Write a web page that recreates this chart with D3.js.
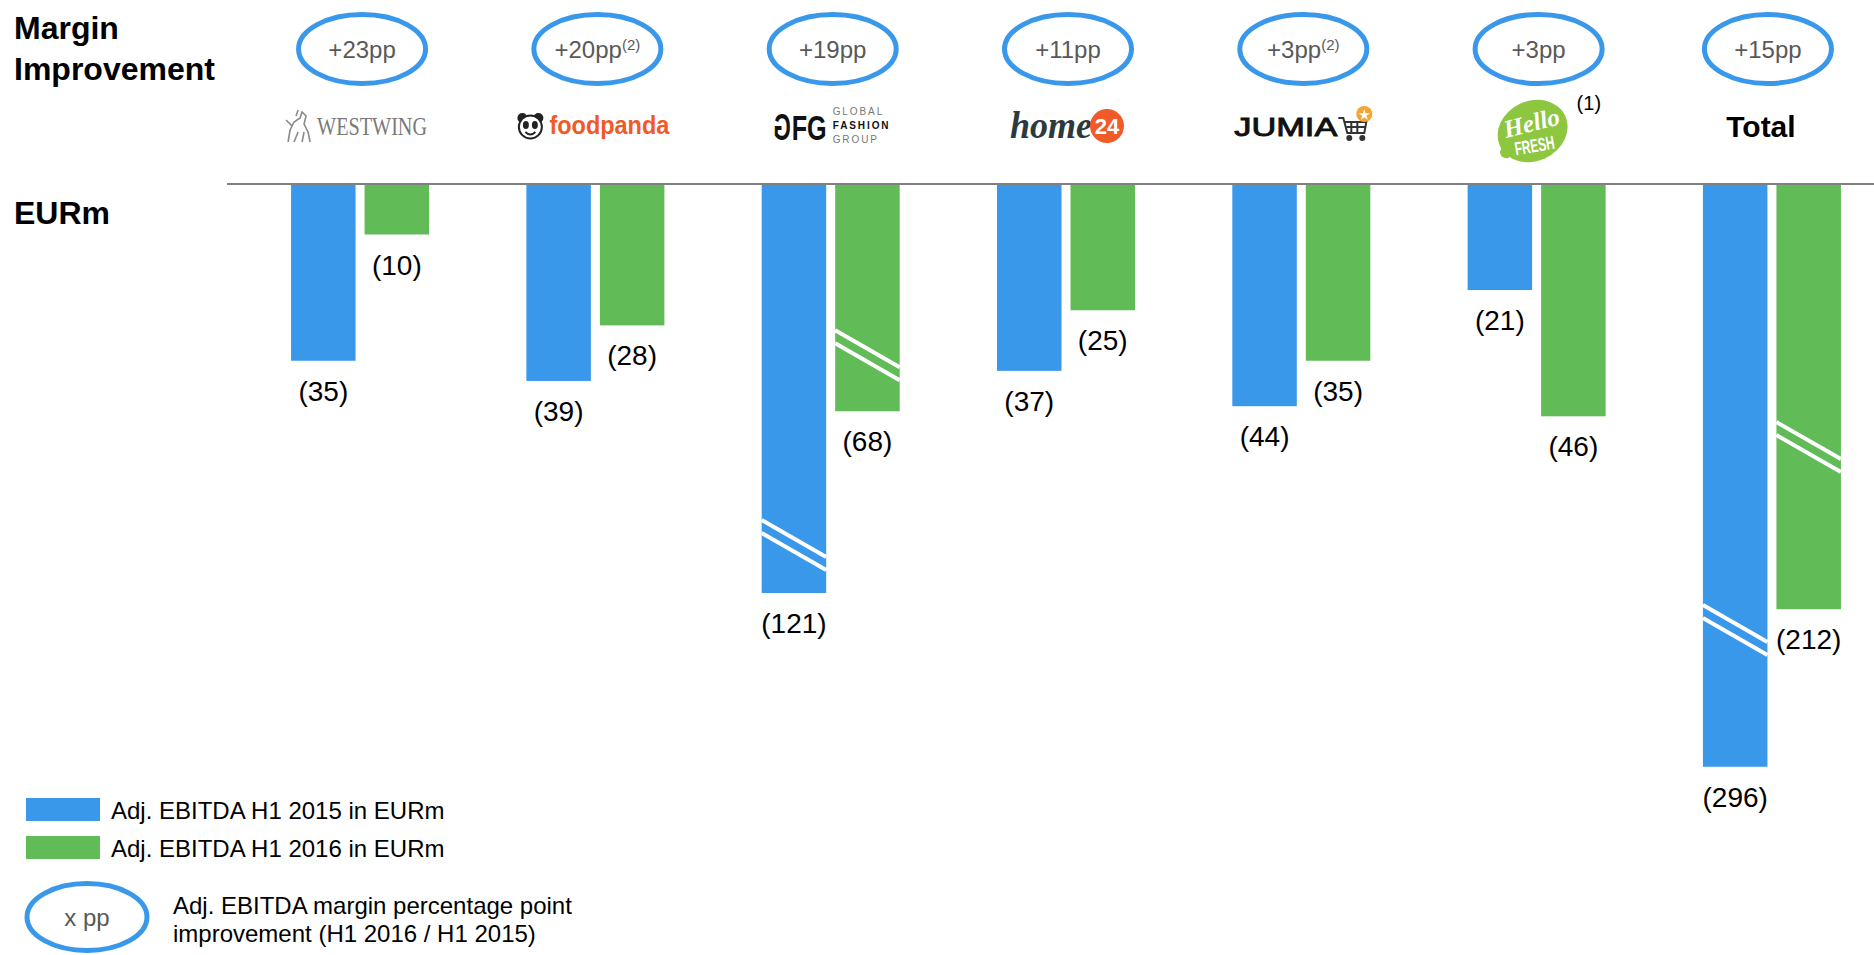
<!DOCTYPE html>
<html>
<head>
<meta charset="utf-8">
<script src="https://cdn.jsdelivr.net/npm/d3@7"></script>
<style>
body { margin: 0; background: #fff; }
text { font-family: "Liberation Sans", Arial, sans-serif; }
</style>
</head>
<body>
<svg id="chart" width="1874" height="955"></svg>
<script>
var companies = ['Westwing', 'foodpanda', 'GFG', 'home24', 'Jumia', 'HelloFresh', 'Total'];
var ebitda2015 = [35, 39, 121, 37, 44, 21, 296];
var ebitda2016 = [10, 28, 68, 25, 35, 46, 212];
// bars with an axis break are drawn shorter: length shown on the scale, and where the break sits
var shown2015 = [35, 39, 81, 37, 44, 21, 115.4];
var shown2016 = [10, 28, 45, 25, 35, 46, 84.2];
var break2015 = [null, null, 71.5, null, null, null, 88.3];
var break2016 = [null, null, 33.9, null, null, null, 52.1];
var marginPP = ['+23pp', '+20pp', '+19pp', '+11pp', '+3pp', '+3pp', '+15pp'];
var marginNote = ['', '(2)', '', '', '(2)', '', ''];
var seriesKeys = ['h1_2015', 'h1_2016'];
var seriesLabels = ['Adj. EBITDA H1 2015 in EURm', 'Adj. EBITDA H1 2016 in EURm'];

var svg = d3.select('#chart');
var blue = '#3a98ea';
var green = '#61bc58';

var x0 = d3.scaleBand().domain(companies).range([244, 1888]).paddingInner(0.4135).paddingOuter(0.2);
var x1 = d3.scaleBand().domain(seriesKeys).range([0, x0.bandwidth()]).paddingInner(0.1224);
var y = d3.scaleLinear().domain([0, 100]).range([184, 689]);
var color = d3.scaleOrdinal().domain(seriesKeys).range([blue, green]);

function cx(c) { return x0(c) + x0.bandwidth() / 2; }

var rows = [];
companies.forEach(function(c, i) {
    rows.push({company: c, key: 'h1_2015', value: ebitda2015[i], shown: shown2015[i], brk: break2015[i]});
    rows.push({company: c, key: 'h1_2016', value: ebitda2016[i], shown: shown2016[i], brk: break2016[i]});
});

// left titles
svg.append('text').attr('x', 14).attr('y', 39).style('font-size', '32px').style('font-weight', 'bold').text('Margin');
svg.append('text').attr('x', 14).attr('y', 80).style('font-size', '32px').style('font-weight', 'bold').text('Improvement');
svg.append('text').attr('x', 14).attr('y', 224).style('font-size', '32px').style('font-weight', 'bold').text('EURm');

// bars
svg.append('g').selectAll('.bar')
    .data(rows)
    .enter()
    .append('rect')
    .attr('class', 'bar')
    .attr('x', function(d) { return x0(d.company) + x1(d.key); })
    .attr('y', y(0))
    .attr('width', x1.bandwidth())
    .attr('height', function(d) { return y(d.shown) - y(0); })
    .style('fill', function(d) { return color(d.key); });

// axis break marks
var broken = rows.filter(function(d) { return d.brk != null; });
[-6.5, 6.5].forEach(function(off) {
    svg.append('g').selectAll('.brk')
        .data(broken)
        .enter()
        .append('line')
        .attr('x1', function(d) { return x0(d.company) + x1(d.key); })
        .attr('x2', function(d) { return x0(d.company) + x1(d.key) + x1.bandwidth(); })
        .attr('y1', function(d) { return y(d.brk) + off - 18.5; })
        .attr('y2', function(d) { return y(d.brk) + off + 18.5; })
        .style('stroke', '#fff')
        .style('stroke-width', 4);
});

// value labels
svg.append('g').selectAll('.lbl')
    .data(rows)
    .enter()
    .append('text')
    .attr('x', function(d) { return x0(d.company) + x1(d.key) + x1.bandwidth() / 2; })
    .attr('y', function(d) { return y(d.shown) + 40; })
    .attr('text-anchor', 'middle')
    .style('font-size', '28px')
    .style('fill', '#000')
    .text(function(d) { return '(' + d.value + ')'; });

// baseline
svg.append('line')
    .attr('x1', 227).attr('x2', 1874)
    .attr('y1', y(0)).attr('y2', y(0))
    .style('stroke', '#808080')
    .style('stroke-width', 2);

// margin ellipses
var ppGroups = svg.append('g').selectAll('.pp')
    .data(companies)
    .enter()
    .append('g');

ppGroups.append('ellipse')
    .attr('cx', function(d) { return cx(d) + (d == 'Total' ? -4 : 2); })
    .attr('cy', 49)
    .attr('rx', 63.5)
    .attr('ry', 34.5)
    .style('fill', 'none')
    .style('stroke', blue)
    .style('stroke-width', 5);

var ppText = ppGroups.append('text')
    .attr('x', function(d) { return cx(d) + (d == 'Total' ? -4 : 2); })
    .attr('y', 58)
    .attr('text-anchor', 'middle')
    .style('font-size', '24px')
    .style('fill', '#595959');
ppText.append('tspan').text(function(d, i) { return marginPP[i]; });
ppText.append('tspan')
    .attr('dy', -8)
    .style('font-size', '15px')
    .text(function(d, i) { return marginNote[i]; });

// logos (approximated with shapes and text)
var logos = svg.append('g');
var logoDraw = {
    Westwing: function(g, c) {
        var h = g.append('g').attr('transform', 'translate(' + [c - 62, 128] + ')')
            .style('fill', 'none').style('stroke', '#8a8a8a').style('stroke-width', 1.6);
        h.append('path').attr('d', 'M-10,14 L-8,2 L-4,-6 L2,-10 L4,-16 L8,-12 L6,-4 L10,4 L12,14');
        h.append('path').attr('d', 'M-6,-2 L-12,-8 M0,4 L-4,14 M6,4 L4,14 M-2,-12 L0,-18');
        g.append('text').attr('x', c - 43).attr('y', 135)
            .attr('textLength', 110).attr('lengthAdjust', 'spacingAndGlyphs')
            .style('font-family', '"Liberation Serif", serif').style('font-size', '25px')
            .style('fill', '#7a7a7a').text('WESTWING');
    },
    foodpanda: function(g, c) {
        var p = g.append('g').attr('transform', 'translate(' + [c - 65, 127] + ')');
        p.append('circle').attr('cx', -8).attr('cy', -9).attr('r', 5).style('fill', '#222');
        p.append('circle').attr('cx', 8).attr('cy', -9).attr('r', 5).style('fill', '#222');
        p.append('circle').attr('r', 11.5).style('fill', '#fff').style('stroke', '#222').style('stroke-width', 2);
        p.append('ellipse').attr('cx', -4.5).attr('cy', -2).attr('rx', 3).attr('ry', 4).style('fill', '#222');
        p.append('ellipse').attr('cx', 4.5).attr('cy', -2).attr('rx', 3).attr('ry', 4).style('fill', '#222');
        p.append('path').attr('d', 'M-5,5 Q0,10 5,5').style('fill', 'none').style('stroke', '#222').style('stroke-width', 1.8);
        g.append('text').attr('x', c - 46).attr('y', 134)
            .attr('textLength', 120).attr('lengthAdjust', 'spacingAndGlyphs')
            .style('font-size', '25px').style('font-weight', 'bold')
            .style('fill', '#f05a28').text('foodpanda');
    },
    GFG: function(g, c) {
        // narrow letters by scaling, first G mirrored
        g.append('text').attr('transform', 'translate(' + (c - 40) + ',140) scale(-0.62,1)')
            .style('font-size', '36px').style('font-weight', 'bold').style('fill', '#111').text('G');
        g.append('text').attr('transform', 'translate(' + (c - 39) + ',140) scale(0.7,1)')
            .style('font-size', '36px').style('font-weight', 'bold').style('fill', '#111').text('FG');
        var small = [['GLOBAL', '#777', 'normal', 115], ['FASHION', '#111', 'bold', 129], ['GROUP', '#777', 'normal', 143]];
        small.forEach(function(s) {
            g.append('text').attr('x', c + 2).attr('y', s[3])
                .style('font-size', '10px').style('letter-spacing', '1.9px')
                .style('font-weight', s[2]).style('fill', s[1]).text(s[0]);
        });
    },
    home24: function(g, c) {
        g.append('text').attr('x', c - 56).attr('y', 138)
            .attr('textLength', 82).attr('lengthAdjust', 'spacingAndGlyphs')
            .style('font-family', '"Liberation Serif", serif').style('font-style', 'italic').style('font-weight', 'bold')
            .style('font-size', '38px').style('fill', '#2c3a40').text('home');
        g.append('circle').attr('cx', c + 41).attr('cy', 126).attr('r', 17).style('fill', '#f15a29');
        g.append('text').attr('x', c + 41).attr('y', 134).attr('text-anchor', 'middle')
            .style('font-size', '22px').style('font-weight', 'bold').style('fill', '#fff').text('24');
    },
    Jumia: function(g, c) {
        g.append('text').attr('x', c - 67).attr('y', 136)
            .attr('textLength', 103).attr('lengthAdjust', 'spacingAndGlyphs')
            .style('font-size', '26px').style('fill', '#111')
            .style('stroke', '#111').style('stroke-width', 0.9).text('JUMIA');
        var k = g.append('g').attr('transform', 'translate(' + [c + 37, 118] + ')')
            .style('fill', 'none').style('stroke', '#333').style('stroke-width', 2);
        k.append('path').attr('d', 'M0,0 L5,0 L9,15 L26,15 L28,4 L6,4');
        k.append('path').attr('d', 'M13,4 L13,15 M19,4 L19,15 M8,9 L27,9');
        k.append('circle').attr('cx', 11).attr('cy', 20).attr('r', 2).style('fill', '#333');
        k.append('circle').attr('cx', 24).attr('cy', 20).attr('r', 2).style('fill', '#333');
        g.append('circle').attr('cx', c + 63).attr('cy', 114).attr('r', 8).style('fill', '#f6a531');
        g.append('path').attr('d', d3.symbol().type(d3.symbolStar).size(40)())
            .attr('transform', 'translate(' + [c + 63, 115] + ')').style('fill', '#fff');
    },
    HelloFresh: function(g, c) {
        var b = g.append('g').attr('transform', 'translate(' + [c - 4, 131] + ') rotate(-25)');
        b.append('ellipse').attr('rx', 36).attr('ry', 30).style('fill', '#8dc63f');
        b.append('circle').attr('cx', -33).attr('cy', 8).attr('r', 6).style('fill', '#8dc63f');
        g.append('text').attr('x', c - 3).attr('y', 131).attr('text-anchor', 'middle')
            .attr('transform', 'rotate(-14,' + (c - 3) + ',131)')
            .style('font-family', '"Liberation Serif", serif').style('font-style', 'italic').style('font-weight', 'bold')
            .style('font-size', '25px').style('fill', '#fff').text('Hello');
        g.append('text').attr('x', c - 1).attr('y', 152).attr('text-anchor', 'middle')
            .attr('transform', 'rotate(-10,' + (c - 1) + ',152)')
            .attr('textLength', 40).attr('lengthAdjust', 'spacingAndGlyphs')
            .style('font-size', '19px').style('font-weight', 'bold').style('fill', '#fff').text('FRESH');
        g.append('text').attr('x', c + 40).attr('y', 110)
            .style('font-size', '20px').style('fill', '#000').text('(1)');
    },
    Total: function(g, c) {
        g.append('text').attr('x', c - 11).attr('y', 137).attr('text-anchor', 'middle')
            .style('font-size', '30px').style('font-weight', 'bold').style('fill', '#000').text('Total');
    }
};
companies.forEach(function(c) {
    logoDraw[c](logos.append('g'), cx(c));
});

// legend
var legend = svg.append('g').selectAll('.legend')
    .data(seriesKeys)
    .enter()
    .append('g')
    .attr('transform', function(d, i) { return 'translate(' + [26, 798 + i * 38] + ')'; });
legend.append('rect')
    .attr('width', 74)
    .attr('height', 23)
    .style('fill', function(d) { return color(d); });
legend.append('text')
    .attr('x', 85)
    .attr('y', 21)
    .style('font-size', '24px')
    .style('fill', '#000')
    .text(function(d, i) { return seriesLabels[i]; });

svg.append('ellipse')
    .attr('cx', 87).attr('cy', 917).attr('rx', 60).attr('ry', 33.5)
    .style('fill', 'none').style('stroke', blue).style('stroke-width', 5);
svg.append('text').attr('x', 87).attr('y', 926).attr('text-anchor', 'middle')
    .style('font-size', '24px').style('fill', '#595959').text('x pp');
svg.append('text').attr('x', 173).attr('y', 914).style('font-size', '24px').text('Adj. EBITDA margin percentage point');
svg.append('text').attr('x', 173).attr('y', 942).style('font-size', '24px').text('improvement (H1 2016 / H1 2015)');
</script>
</body>
</html>
